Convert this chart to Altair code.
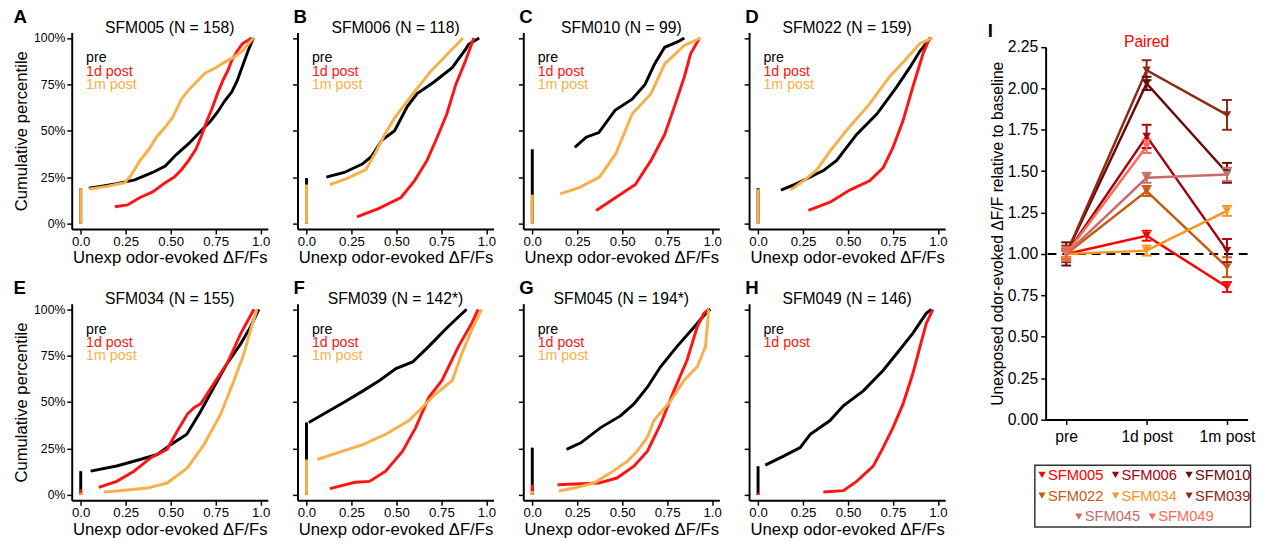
import altair as alt
import pandas as pd

FONT = "Liberation Sans"

# ---------------- CDF panels (A-H) ----------------
GROUPS = ["pre", "1d post", "1m post"]
GROUP_COLORS = ["#000000", "#ff1414", "#f9b04a"]

PANELS = ["SFM005", "SFM006", "SFM010", "SFM022", "SFM034", "SFM039", "SFM045", "SFM049"]
N_CELLS = ["158", "118", "99", "159", "155", "142*", "194*", "146"]
LETTERS = ["A", "B", "C", "D", "E", "F", "G", "H"]

# fraction of ROIs at exactly zero (bar at x = 0): pre, 1d post, 1m post
SFM005_zero = [0.19, 0.0, 0.19]
SFM006_zero = [0.245, 0.0, 0.21]
SFM010_zero = [0.40, 0.0, 0.155]
SFM022_zero = [0.19, 0.0, 0.185]
SFM034_zero = [0.127, 0.03, 0.01]
SFM039_zero = [0.39, 0.0, 0.19]
SFM045_zero = [0.254, 0.054, 0.02]
SFM049_zero = [0.154, 0.01, None]

# cumulative curves: (unexposed odor-evoked dF/Fs, cumulative fraction)
SFM005_pre = [(0.045, 0.19), (0.11, 0.20), (0.2, 0.215), (0.3, 0.235), (0.4, 0.275), (0.47, 0.31),
              (0.53, 0.37), (0.6, 0.43), (0.66, 0.49), (0.72, 0.55), (0.76, 0.6), (0.8, 0.66),
              (0.84, 0.71), (0.87, 0.77), (0.9, 0.85), (0.93, 0.93), (0.96, 1.0)]
SFM005_1d = [(0.19, 0.09), (0.26, 0.10), (0.33, 0.14), (0.4, 0.17), (0.47, 0.22), (0.52, 0.25),
             (0.56, 0.29), (0.6, 0.34), (0.64, 0.4), (0.67, 0.47), (0.7, 0.55), (0.73, 0.62),
             (0.76, 0.7), (0.79, 0.77), (0.82, 0.83), (0.84, 0.88), (0.87, 0.93), (0.9, 0.97), (0.95, 1.0)]
SFM005_1m = [(0.045, 0.185), (0.145, 0.2), (0.245, 0.22), (0.28, 0.26), (0.33, 0.34), (0.38, 0.4),
              (0.42, 0.465), (0.47, 0.52), (0.51, 0.57), (0.56, 0.67), (0.6, 0.72), (0.65, 0.77),
              (0.69, 0.81), (0.75, 0.84), (0.8, 0.87), (0.84, 0.89), (0.9, 0.93), (0.96, 1.0)]

SFM006_pre = [(0.11, 0.25), (0.21, 0.275), (0.31, 0.32), (0.36, 0.36), (0.42, 0.45), (0.49, 0.5),
              (0.56, 0.63), (0.615, 0.70), (0.705, 0.76), (0.81, 0.84), (0.885, 0.94), (0.9, 0.965), (0.96, 1.0)]
SFM006_1d = [(0.28, 0.035), (0.4, 0.08), (0.525, 0.14), (0.6, 0.23), (0.67, 0.34), (0.72, 0.45),
             (0.78, 0.59), (0.83, 0.75), (0.885, 0.88), (0.93, 1.0)]
SFM006_1m = [(0.13, 0.21), (0.22, 0.24), (0.33, 0.29), (0.38, 0.375), (0.435, 0.48), (0.49, 0.57),
             (0.6, 0.71), (0.69, 0.82), (0.78, 0.91), (0.87, 1.0)]

SFM010_pre = [(0.236, 0.41), (0.3, 0.465), (0.37, 0.49), (0.46, 0.61), (0.555, 0.67), (0.627, 0.75),
              (0.68, 0.86), (0.736, 0.95), (0.81, 0.98), (0.845, 1.0)]
SFM010_1d = [(0.355, 0.07), (0.464, 0.14), (0.573, 0.21), (0.66, 0.34), (0.736, 0.48), (0.79, 0.63),
             (0.845, 0.79), (0.88, 0.915), (0.93, 1.0)]
SFM010_1m = [(0.155, 0.16), (0.264, 0.195), (0.373, 0.25), (0.464, 0.375), (0.555, 0.59), (0.66, 0.70),
             (0.736, 0.86), (0.845, 0.96), (0.936, 1.0)]

SFM022_pre = [(0.127, 0.18), (0.215, 0.215), (0.363, 0.285), (0.437, 0.34), (0.548, 0.48), (0.66, 0.59),
              (0.77, 0.735), (0.843, 0.84), (0.9, 0.93), (0.96, 1.0)]
SFM022_1d = [(0.28, 0.07), (0.4, 0.115), (0.51, 0.18), (0.62, 0.23), (0.695, 0.30), (0.75, 0.41),
             (0.806, 0.555), (0.86, 0.735), (0.917, 0.915), (0.954, 1.0)]
SFM022_1m = [(0.18, 0.18), (0.253, 0.23), (0.327, 0.29), (0.4, 0.39), (0.49, 0.5), (0.62, 0.645),
             (0.73, 0.79), (0.825, 0.89), (0.9, 0.97), (0.97, 1.0)]

SFM034_pre = [(0.055, 0.127), (0.2, 0.155), (0.33, 0.19), (0.426, 0.217), (0.5, 0.27), (0.59, 0.326),
              (0.667, 0.45), (0.74, 0.58), (0.815, 0.71), (0.89, 0.815), (0.944, 0.905), (0.99, 1.0)]
SFM034_1d = [(0.1, 0.04), (0.2, 0.072), (0.296, 0.127), (0.39, 0.2), (0.48, 0.245), (0.537, 0.344),
             (0.593, 0.435), (0.63, 0.47), (0.667, 0.49), (0.74, 0.6), (0.815, 0.71), (0.89, 0.87), (0.963, 1.0)]
SFM034_1m = [(0.13, 0.015), (0.2, 0.02), (0.37, 0.036), (0.48, 0.063), (0.593, 0.145), (0.685, 0.27),
             (0.778, 0.435), (0.852, 0.616), (0.907, 0.76), (0.944, 0.888), (0.98, 1.0)]

SFM039_pre = [(0.013, 0.39), (0.095, 0.435), (0.223, 0.507), (0.314, 0.56), (0.406, 0.616), (0.497, 0.68),
              (0.59, 0.716), (0.68, 0.8), (0.77, 0.89), (0.845, 0.96), (0.89, 1.0)]
SFM039_1d = [(0.13, 0.033), (0.27, 0.067), (0.35, 0.072), (0.44, 0.127), (0.534, 0.235), (0.607, 0.362),
             (0.68, 0.525), (0.753, 0.616), (0.845, 0.8), (0.918, 0.924), (0.954, 1.0)]
SFM039_1m = [(0.06, 0.19), (0.17, 0.226), (0.314, 0.27), (0.44, 0.326), (0.57, 0.4), (0.643, 0.47),
             (0.717, 0.543), (0.81, 0.616), (0.863, 0.76), (0.918, 0.888), (0.973, 1.0)]

SFM045_pre = [(0.19, 0.245), (0.27, 0.28), (0.38, 0.362), (0.49, 0.425), (0.565, 0.49), (0.64, 0.58),
              (0.713, 0.69), (0.805, 0.8), (0.9, 0.905), (0.972, 0.987), (0.99, 1.0)]
SFM045_1d = [(0.14, 0.054), (0.37, 0.063), (0.47, 0.09), (0.565, 0.154), (0.64, 0.235), (0.713, 0.38),
             (0.787, 0.56), (0.86, 0.725), (0.917, 0.905), (0.954, 0.978), (0.98, 1.0)]
SFM045_1m = [(0.148, 0.02), (0.23, 0.036), (0.343, 0.063), (0.435, 0.118), (0.528, 0.18), (0.583, 0.235),
             (0.64, 0.31), (0.676, 0.4), (0.722, 0.453), (0.77, 0.507), (0.843, 0.616), (0.917, 0.69),
             (0.963, 0.8), (0.975, 0.93), (0.98, 1.0)]

SFM049_pre = [(0.04, 0.16), (0.142, 0.208), (0.234, 0.254), (0.29, 0.326), (0.4, 0.4), (0.474, 0.48),
              (0.585, 0.56), (0.695, 0.67), (0.77, 0.76), (0.86, 0.87), (0.935, 0.978), (0.963, 1.0)]
SFM049_1d = [(0.363, 0.015), (0.474, 0.022), (0.548, 0.072), (0.64, 0.154), (0.695, 0.254), (0.75, 0.362),
             (0.806, 0.49), (0.86, 0.652), (0.9, 0.797), (0.935, 0.924), (0.972, 1.0)]
SFM049_1m = None

XTICKS = [0, 0.25, 0.5, 0.75, 1.0]
XTICK_LABELS = ["0.0", "0.25", "0.50", "0.75", "1.0"]
YTICKS = [0, 0.25, 0.5, 0.75, 1.0]

# ---------------- Paired panel (I) ----------------
TIMEPOINTS = ["pre", "1d post", "1m post"]
PAIRED_COLORS = ["#ff0000", "#a8000f", "#6b0a0a", "#c85a10", "#f7941d", "#8c2a14", "#c86b6b", "#ff6a55"]
PRE_MEAN = [1.0, 1.0, 1.0, 1.0, 1.0, 1.0, 1.0, 1.0]
PRE_ERR = [0.02, 0.03, 0.07, 0.03, 0.02, 0.05, 0.03, 0.04]
D1_MEAN = [1.11, 1.71, 2.03, 1.38, 1.02, 2.11, 1.46, 1.65]
D1_ERR = [0.03, 0.07, 0.04, 0.03, 0.03, 0.06, 0.03, 0.04]
M1_MEAN = [0.80, 1.02, 1.49, 0.92, 1.26, 1.84, 1.48, None]
M1_ERR = [0.03, 0.07, 0.06, 0.06, 0.03, 0.09, 0.04, None]
I_YTICKS = [0, 0.25, 0.5, 0.75, 1.0, 1.25, 1.5, 1.75, 2.0, 2.25]

# ---------------- layout constants ----------------
W, H = 200, 200.5
XDOM = [-0.05, 1.04]
YDOM = [-0.03, 1.03]
S_COL = 21.3
S_ROW = 13.7
S_MAIN = 41.4
S_LEG = 20.5
IW = 206
I_TOP = 14.8            # panel I plot starts lower than the CDF panels
IH = 380.0 + I_TOP
LEG_W, LEG_H = 210, 63
LEG_BOX_LEFT = -11
LEG_STEP = 75.0

CURVES = {p: [globals()[f"{p}_pre"], globals()[f"{p}_1d"], globals()[f"{p}_1m"]] for p in PANELS}
ZEROS = {p: globals()[f"{p}_zero"] for p in PANELS}

xlabel_expr = " : ".join(
    [f"datum.value == {v} ? '{l}'" for v, l in zip(XTICKS[:-1], XTICK_LABELS[:-1])]
) + f" : '{XTICK_LABELS[-1]}'"


def text_layer(txt, dx, dy, size=19, bold=True, color="black", align="left", baseline="top", opacity=1.0):
    return alt.Chart(pd.DataFrame({"t": [txt]})).mark_text(
        align=align, baseline=baseline, fontSize=size, fontWeight="bold" if bold else "normal",
        font=FONT, color=color, opacity=opacity
    ).encode(text="t:N", x=alt.value(dx), y=alt.value(dy))


def cdf_panel(idx):
    name = PANELS[idx]
    first_col = idx % 4 == 0
    x_enc = alt.X("x:Q", scale=alt.Scale(domain=XDOM, nice=False, zero=False),
                  axis=alt.Axis(values=XTICKS, labelExpr=xlabel_expr,
                                title="Unexp odor-evoked \u0394F/Fs", labelPadding=1, titlePadding=2,
                                labelFlush=False, labelOverlap=False))
    if first_col:
        y_axis = alt.Axis(values=YTICKS, format=".0%", title="Cumulative percentile",
                          labelFlush=False, labelOverlap=False, labelFontSize=12.5, titlePadding=3.5)
    else:
        y_axis = alt.Axis(values=YTICKS, labels=False, title=None)
    y_enc = alt.Y("y:Q", scale=alt.Scale(domain=YDOM, nice=False, zero=False), axis=y_axis)

    layers = []
    present = []
    for gi, g in enumerate(GROUPS):
        pts = CURVES[name][gi]
        z = ZEROS[name][gi]
        col = GROUP_COLORS[gi]
        if pts is None:
            continue
        present.append((g, col))
        if z:
            zdf = pd.DataFrame({"x": [0.0], "y": [0.0], "y2": [z]})
            layers.append(alt.Chart(zdf).mark_rule(strokeWidth=3, color=col).encode(
                x=x_enc, y=y_enc, y2="y2:Q"))
        cdf = pd.DataFrame({"x": [p[0] for p in pts], "y": [p[1] for p in pts],
                            "o": list(range(len(pts)))})
        layers.append(alt.Chart(cdf).mark_line(strokeWidth=3, color=col).encode(
            x=x_enc, y=y_enc, order="o:Q"))

    for k, (g, col) in enumerate(present):
        kdf = pd.DataFrame({"g": [g], "x": [0.03], "y": [0.89 - k * 0.072]})
        layers.append(alt.Chart(kdf).mark_text(align="left", baseline="middle", fontSize=14.5,
                                               font=FONT, color=col).encode(
            x=x_enc, y=y_enc, text="g:N"))

    dx = -59.3 if first_col else -4
    layers.append(text_layer(LETTERS[idx], dx, -24.5))
    layers.append(text_layer(f"{name} (N = {N_CELLS[idx]})", W / 2, -4.7, size=16, bold=False,
                             align="center", baseline="middle"))

    return alt.layer(*layers).properties(width=W, height=H)


panels = [cdf_panel(i) for i in range(8)]
row1 = alt.hconcat(*panels[:4], spacing=S_COL)
row2 = alt.hconcat(*panels[4:], spacing=S_COL)
grid = alt.vconcat(row1, row2, spacing=S_ROW)

# ---------------- panel I ----------------
rows = []
for si, s in enumerate(PANELS):
    for ti, (mm, ee) in enumerate([(PRE_MEAN[si], PRE_ERR[si]), (D1_MEAN[si], D1_ERR[si]),
                                   (M1_MEAN[si], M1_ERR[si])]):
        if mm is None:
            continue
        rows.append({"s": s, "t": ti, "m": mm, "lo": mm - ee, "hi": mm + ee})
pdf = pd.DataFrame(rows)

tlabel_expr = " : ".join([f"datum.value == {i} ? '{t}'" for i, t in enumerate(TIMEPOINTS[:-1])]) + \
    f" : '{TIMEPOINTS[-1]}'"
ix = alt.X("t:Q", scale=alt.Scale(domain=[-0.256, 2.256], nice=False, zero=False),
           axis=alt.Axis(values=[0, 1, 2], labelExpr=tlabel_expr, title=None, labelFontSize=16,
                         labelPadding=4, labelFlush=False))
iscale = alt.Scale(domain=[0, 2.25], nice=False, range=[IH, I_TOP])
iaxis = alt.Axis(values=I_YTICKS, format=".2f", title="Unexposed odor-evoked \u0394F/F relative to baseline",
                 labelFontSize=16, titleFontSize=16, labelPadding=3, titlePadding=2, labelFlush=False,
                 labelOverlap=False)
scol = alt.Color("s:N", scale=alt.Scale(domain=PANELS, range=PAIRED_COLORS), legend=None)

dashed = alt.Chart(pd.DataFrame({"m": [1.0]})).mark_rule(
    strokeDash=[9, 6], strokeWidth=2, color="black").encode(y=alt.Y("m:Q", scale=iscale, axis=iaxis))
lines = alt.Chart(pdf).mark_line(strokeWidth=2.5).encode(
    x=ix, y=alt.Y("m:Q", scale=iscale, axis=iaxis), color=scol, order="t:Q")
errs = alt.Chart(pdf).mark_rule(strokeWidth=2).encode(
    x=ix, y=alt.Y("lo:Q", scale=iscale, axis=iaxis), y2="hi:Q", color=scol)
cap_hi = alt.Chart(pdf).mark_point(shape="M-1,0L1,0", size=100, strokeWidth=2, filled=False, opacity=1).encode(
    x=ix, y=alt.Y("hi:Q", scale=iscale, axis=iaxis), color=scol)
cap_lo = alt.Chart(pdf).mark_point(shape="M-1,0L1,0", size=100, strokeWidth=2, filled=False, opacity=1).encode(
    x=ix, y=alt.Y("lo:Q", scale=iscale, axis=iaxis), color=scol)
tris = alt.Chart(pdf).mark_point(shape="triangle-down", filled=True, size=75, opacity=1).encode(
    x=ix, y=alt.Y("m:Q", scale=iscale, axis=iaxis), color=scol)

panel_i = alt.layer(
    dashed, lines, errs, cap_hi, cap_lo, tris,
    text_layer("I", -59, I_TOP - 25.6),
    text_layer("Paired", IW / 2, I_TOP - 4.7, size=16, bold=False, color="#ff0000", align="center",
               baseline="middle"),
).properties(width=IW, height=IH)

# legend box
leg_rows = []
for i, s in enumerate(PANELS):
    leg_rows.append({"s": s, "col": i % 3 + (0.5 if i >= 6 else 0.0), "row": i // 3})
ldf = pd.DataFrame(leg_rows)
x0 = (7.3 + LEG_BOX_LEFT) / LEG_STEP
lx = alt.X("col:Q", scale=alt.Scale(domain=[-x0, -x0 + LEG_W / LEG_STEP], nice=False, zero=False), axis=None)
ly = alt.Y("row:Q", scale=alt.Scale(domain=[-0.455, 2.502], nice=False, zero=False, reverse=True), axis=None)
legend = alt.layer(
    alt.Chart(pd.DataFrame({"b": [0]})).mark_rect(filled=False, stroke="#333333", strokeWidth=1.5).encode(
        x=alt.value(LEG_BOX_LEFT), x2=alt.value(LEG_BOX_LEFT + 220), y=alt.value(0), y2=alt.value(LEG_H)),
    alt.Chart(ldf).mark_point(shape="triangle-down", filled=True, size=55, opacity=1).encode(
        x=lx, y=ly, color=scol),
    alt.Chart(ldf).mark_text(align="left", baseline="middle", dx=6, fontSize=15, font=FONT).encode(
        x=lx, y=ly, text="s:N", color=scol),
).properties(width=LEG_W, height=LEG_H)

right = alt.vconcat(panel_i, legend, spacing=S_LEG)

chart = alt.hconcat(grid, right, spacing=S_MAIN).properties(
    padding={"left": 4, "top": -5.4, "right": 2, "bottom": 0}
).configure(font=FONT, background="white").configure_view(stroke=None).configure_axis(
    grid=False, domainColor="black", domainWidth=2, tickColor="black", tickWidth=1.5, tickSize=5,
    labelColor="black", titleColor="black", labelFont=FONT, titleFont=FONT,
    labelFontSize=13.5, titleFontSize=17, titleFontWeight="normal",
    labelPadding=2, titlePadding=2, minExtent=0
)

chart.save("out.html", embed_options={"renderer": "svg", "actions": False})
